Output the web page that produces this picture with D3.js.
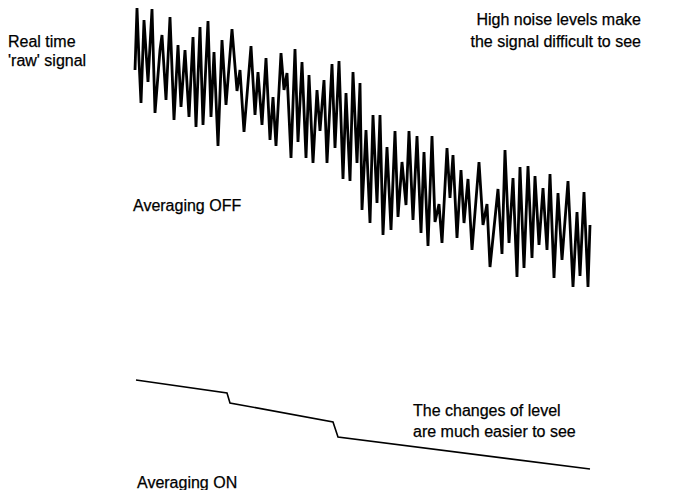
<!DOCTYPE html>
<head>
  <meta charset="utf-8">
  <title>Averaging</title>
  <style>
    body { margin: 0; background: #fff; }
    text {
      font-family: "Liberation Sans", Arial, sans-serif;
      font-size: 16px;
      fill: #000;
      stroke: #000;
      stroke-width: 0.25px;
    }
  </style>
</head>

<body>
  <script src="https://d3js.org/d3.v7.min.js"></script>
  <script>
  // raw noisy signal: time vs level (arbitrary units)
  const rawTime = [0, 2, 4, 6, 9, 13, 17, 20, 25, 27, 31, 35, 39, 43, 46, 50, 54, 58, 61, 65,
    68, 73, 76, 79, 83, 87, 91, 97, 102, 105, 109, 116, 120, 123, 127, 131, 135, 138, 141, 146,
    149, 152, 156, 160, 163, 167, 171, 174, 178, 182, 185, 189, 192, 197, 200, 204, 208, 211, 215, 218,
    222, 225, 227, 231, 235, 238, 242, 245, 248, 252, 256, 260, 263, 267, 271, 274, 278, 282, 286, 289,
    293, 297, 300, 304, 307, 312, 315, 318, 322, 326, 329, 333, 337, 344, 348, 352, 355, 363, 367, 370,
    374, 378, 382, 385, 389, 393, 397, 400, 404, 408, 412, 415, 419, 423, 427, 433, 438, 442, 445, 449,
    453, 455];
  const rawLevel = [230, 292, 240, 197, 280, 218, 291, 187, 250, 265, 200, 283, 180, 255, 193, 250, 183, 263, 173, 273,
    175, 279, 183, 248, 154, 260, 195, 271, 209, 230, 168, 254, 185, 228, 175, 242, 160, 203, 154, 247,
    210, 227, 142, 251, 158, 238, 142, 225, 137, 210, 169, 220, 137, 236, 152, 239, 121, 207, 119, 228,
    137, 217, 90, 170, 77, 185, 97, 185, 65, 153, 70, 169, 83, 138, 95, 169, 80, 164, 67, 148,
    54, 164, 78, 96, 57, 152, 102, 145, 62, 130, 77, 121, 50, 138, 75, 96, 33, 111, 46, 150,
    57, 122, 23, 133, 32, 134, 42, 124, 55, 112, 50, 126, 22, 107, 40, 119, 13, 88, 24, 108,
    13, 75];

  // averaged signal
  const avgTime = [1, 92, 95, 198, 203, 455];
  const avgLevel = [-80, -93, -103, -122, -137, -169];

  const labels = [
    { text: "Real time", t: -127, v: 253, anchor: "start" },
    { text: "'raw' signal", t: -127, v: 234, anchor: "start" },
    { text: "High noise levels make", t: 506, v: 275, anchor: "end" },
    { text: "the signal difficult to see", t: 506, v: 253, anchor: "end" },
    { text: "Averaging OFF", t: -2, v: 89, anchor: "start" },
    { text: "The changes of level", t: 278, v: -116, anchor: "start" },
    { text: "are much easier to see", t: 278, v: -137, anchor: "start" },
    { text: "Averaging ON", t: 2, v: -188, anchor: "start" }
  ];

  const width = 673, height = 490;

  const x = d3.scaleLinear().domain([0, 460]).range([135, 595]);
  const y = d3.scaleLinear().domain([-200, 300]).range([500, 0]);

  const svg = d3.select("body").append("svg")
    .attr("width", width)
    .attr("height", height);

  const raw = d3.zip(rawTime, rawLevel);
  const avg = d3.zip(avgTime, avgLevel);

  const line = d3.line()
    .x(d => x(d[0]))
    .y(d => y(d[1]));

  svg.append("path")
    .datum(raw)
    .attr("d", line)
    .attr("fill", "none")
    .attr("stroke", "#000")
    .attr("stroke-width", 2.8)
    .attr("stroke-linejoin", "miter");

  svg.append("path")
    .datum(avg)
    .attr("d", line)
    .attr("fill", "none")
    .attr("stroke", "#000")
    .attr("stroke-width", 1.6);

  svg.append("g")
    .selectAll("text")
    .data(labels)
    .join("text")
    .attr("x", d => x(d.t))
    .attr("y", d => y(d.v))
    .attr("text-anchor", d => d.anchor)
    .text(d => d.text);
  </script>
</body>
</html>
